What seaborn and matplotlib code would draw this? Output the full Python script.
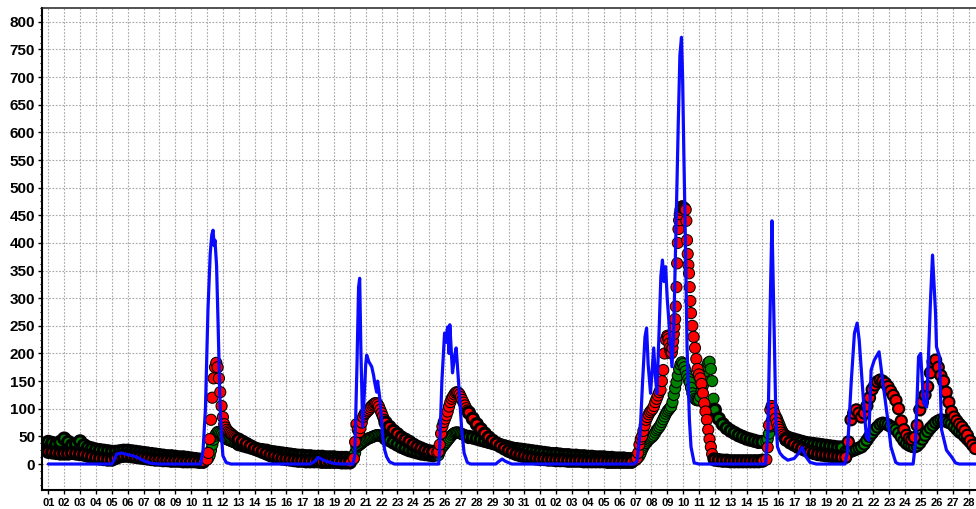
import numpy as np
import pandas as pd
import matplotlib
matplotlib.use("Agg")
import matplotlib.pyplot as plt
import seaborn as sns
from matplotlib.ticker import MultipleLocator

# ---------------- data ----------------
# x axis: consecutive days of two months (31 + 28 days)
day_labels = ["%02d" % d for d in range(1, 32)] + ["%02d" % d for d in range(1, 29)]
y_ticks = list(range(0, 801, 50))

# marker series given as (start day, step in hours, values)
red_segments = [
    (0.0, 6, [22, 21, 20, 19, 19, 19, 20, 19, 18, 17, 15, 13, 11, 10, 9, 8, 8, 11, 14, 15,
              15, 14, 13, 12, 11, 10, 9, 8, 8, 7, 7, 6, 6, 6, 5, 5, 5, 5, 4, 4]),
    (10.0, 2, [8, 20, 45, 80, 120, 155, 175, 183, 175, 155, 130, 105, 85, 72, 66, 62, 59, 57,
               55, 53, 51, 49, 47, 45]),
    (12.0, 6, [44, 40, 36, 32, 28, 25, 22, 19, 16, 14, 12, 10, 9, 8, 7, 6, 6, 5, 5, 5, 5, 4,
               4, 4, 4, 4, 3, 3, 3]),
    (19.25, 2, [10, 40, 72, 62, 58, 65, 75, 85, 90, 92, 95, 97, 100, 103, 106, 108, 110, 110,
                108, 104, 98, 92, 86, 80]),
    (21.25, 6, [75, 67, 60, 54, 48, 44, 40, 35, 31, 28, 25, 23, 22]),
    (24.5, 2, [21, 22, 35, 55, 68, 76, 82, 88, 95, 104, 112, 118, 122, 126, 129, 130, 129, 126,
               121, 116, 111, 106, 101, 97]),
    (26.5, 6, [93, 82, 72, 63, 55, 48, 42, 37, 32, 28, 24, 21, 18, 16, 14, 12, 11, 10, 9, 9, 8,
               8, 7, 7, 7, 6, 6, 6, 6, 5, 5, 5, 5, 5, 5, 4, 4, 4, 4, 4, 4, 4]),
    (37.0, 2, [7, 10, 20, 35, 45, 50, 60, 70, 80, 85, 90, 94, 97, 100, 105, 112, 118, 124, 130,
               134, 150, 170, 200, 225]),
    (39.0, 1, [232, 230, 226, 218, 210, 204, 200, 202, 210, 222, 235, 248, 262, 285, 320, 363,
               400, 425, 441, 452, 460, 464, 466, 466, 465, 464, 463, 462, 460, 440, 405, 380,
               360, 345, 320, 295]),
    (40.5, 2, [273, 250, 230, 210, 190, 172, 162, 155, 145, 128, 110, 95, 80, 62, 45, 31, 18, 10]),
    (42.0, 6, [8, 7, 6, 6, 5, 5, 5, 5, 5, 5, 5, 5, 6]),
    (45.25, 2, [8, 30, 70, 98, 105, 100, 92, 82, 74, 67, 62, 57, 53, 50, 47]),
    (46.5, 6, [44, 39, 35, 31, 28, 25, 22, 20, 18, 17, 16, 15, 14, 13, 12]),
    (50.25, 4, [12, 40, 80, 92, 98, 92, 85, 92, 105, 120, 135, 143, 149, 152, 150, 146, 140, 132,
                124, 115, 100, 78, 62, 52, 46, 44, 48, 70, 98, 112, 125, 140, 165, 185, 188, 175,
                160, 150, 130, 112, 95, 85, 78, 72, 67, 60, 52, 42, 34, 28]),
]

green_segments = [
    (0.0, 6, [40, 38, 36, 40, 46, 40, 34, 36, 41, 34, 30, 28, 26, 25, 24, 23, 22, 22, 23, 24,
              24, 23, 22, 21, 20, 19, 18, 17, 16, 15, 14, 14, 13, 12, 12, 11, 10, 9, 8, 8]),
    (10.0, 2, [9, 11, 16, 25, 35, 44, 51, 55, 58, 57, 55, 53, 50, 48, 46, 45, 44, 43, 42, 41,
               40, 39, 38, 37]),
    (12.0, 6, [36, 34, 32, 30, 28, 26, 25, 24, 22, 21, 20, 19, 18, 17, 16, 15, 15, 14, 14, 13,
               13, 13, 12, 12, 12, 11, 11, 11, 10]),
    (19.25, 2, [10, 20, 30, 33, 34, 36, 38, 40, 42, 43, 45, 46, 47, 48, 49, 50, 51, 52, 52, 52,
                51, 50, 49, 48]),
    (21.25, 6, [46, 43, 39, 35, 31, 28, 25, 23, 21, 19, 18, 17, 16]),
    (24.5, 2, [16, 16, 22, 28, 31, 34, 37, 40, 43, 46, 49, 52, 54, 56, 57, 57, 57, 56, 55, 54,
               53, 52, 51, 50]),
    (26.5, 6, [49, 48, 46, 44, 42, 40, 38, 36, 34, 32, 30, 28, 27, 26, 25, 24, 23, 22, 21, 20,
               19, 18, 18, 17, 16, 16, 15, 15, 14, 14, 13, 13, 12, 12, 12, 11, 11, 10, 10, 10,
               9, 9]),
    (37.0, 2, [9, 10, 12, 15, 20, 26, 31, 35, 38, 41, 44, 46, 48, 50, 53, 57, 61, 64, 67, 71,
               76, 81, 86, 91]),
    (39.0, 2, [95, 98, 101, 104, 112, 125, 137, 148, 160, 172, 180, 184, 181, 175, 168, 160,
               154, 148]),
    (40.5, 2, [138, 128, 122, 118, 116, 115, 116, 122, 132, 142, 155, 168, 177, 183, 185, 172,
               150, 118]),
    (42.0, 6, [98, 82, 72, 65, 60, 56, 52, 49, 46, 44, 42, 40, 40]),
    (45.25, 2, [41, 45, 55, 68, 78, 85, 88, 86, 82, 76, 70, 64, 59, 55, 52]),
    (46.5, 6, [49, 46, 44, 42, 40, 38, 37, 36, 35, 34, 33, 32, 31, 30, 30]),
    (50.25, 4, [22, 22, 23, 25, 27, 29, 31, 36, 43, 50, 56, 62, 67, 72, 74, 73, 71, 68, 65, 62,
                56, 49, 42, 37, 34, 32, 31, 33, 38, 45, 52, 59, 65, 70, 75, 78, 80, 79, 77, 75,
                73, 68, 63, 58, 55, 50, 45, 40, 37, 34]),
]

blue_days = [0, 4.0, 4.15, 4.3, 4.6, 5.0, 5.3, 5.6, 6.0, 6.5, 7.0,
             9.6, 9.75, 9.9, 10.06, 10.2, 10.3, 10.38, 10.45, 10.5, 10.6, 10.7, 10.8, 10.9, 11.0, 11.2, 11.5,
             16.5, 16.8, 17.0, 17.2, 17.5, 18.0, 18.5,
             19.2, 19.31, 19.45, 19.55, 19.62, 19.7, 19.81, 19.9, 20.0, 20.06, 20.2, 20.38, 20.5, 20.57,
             20.69, 20.75, 20.88, 21.0, 21.07, 21.2, 21.32, 21.5, 21.8,
             24.6, 24.65, 24.8, 24.97, 25.05, 25.16, 25.25, 25.3, 25.47, 25.6, 25.7, 25.8, 25.9, 26.05,
             26.2, 26.4, 26.6,
             28.2, 28.4, 28.6, 28.8, 29.2,
             36.9, 37.1, 37.3, 37.45, 37.6, 37.7, 37.8, 37.95, 38.05, 38.15, 38.25, 38.35, 38.5, 38.6,
             38.7, 38.8, 38.9, 39.0, 39.1, 39.3, 39.4, 39.55, 39.7, 39.8, 39.9, 39.97, 40.05, 40.15,
             40.25, 40.4, 40.5, 40.7, 41.0,
             45.2, 45.35, 45.5, 45.6, 45.7, 45.85, 45.95, 46.1, 46.3, 46.6, 47.0, 47.3, 47.5, 47.7,
             48.0, 48.4,
             50.2, 50.35, 50.6, 50.8, 50.97, 51.1, 51.35, 51.55, 51.7, 51.85, 52.05, 52.35, 52.6,
             52.9, 53.1, 53.4, 53.6,
             54.5, 54.65, 54.84, 54.97, 55.16, 55.35, 55.6, 55.72, 55.91, 55.97, 56.16, 56.29, 56.6,
             56.92, 57.17, 57.4, 58.5]
blue_vals = [0, 0, 8, 18, 20, 17, 15, 12, 6, 1, 0,
             0, 25, 100, 280, 380, 415, 423, 395, 405, 360, 250, 130, 55, 15, 3, 0,
             0, 5, 12, 9, 5, 1, 0,
             0, 15, 180, 320, 336, 200, 67, 120, 180, 197, 185, 176, 160, 147,
             130, 150, 121, 80, 49, 25, 13, 4, 0,
             0, 20, 150, 237, 220, 248, 200, 252, 165, 195, 210, 170, 128, 62,
             20, 3, 0,
             0, 5, 9, 5, 0,
             0, 5, 60, 150, 230, 246, 180, 128, 170, 210, 160, 128, 250, 340,
             369, 330, 357, 300, 261, 176, 230, 420, 620, 740, 772, 700, 560, 400,
             212, 80, 31, 2, 0,
             0, 60, 300, 440, 300, 80, 31, 20, 13, 7, 10, 20, 30, 15,
             3, 0,
             0, 20, 150, 237, 255, 224, 122, 49, 43, 170, 188, 203, 146,
             80, 31, 3, 0,
             0, 40, 194, 200, 110, 103, 302, 378, 273, 212, 194, 62, 25,
             13, 2, 0, 0]


def build(segments, name):
    rows = []
    for start, step_h, vals in segments:
        for i, v in enumerate(vals):
            rows.append((start + i * step_h / 24.0, v, step_h))
    df = pd.DataFrame(rows, columns=["day", "value", "step"])
    df["series"] = name
    return df


red_df = build(red_segments, "red")
green_df = build(green_segments, "green")
blue_df = pd.DataFrame({"day": blue_days, "value": blue_vals})

# ---------------- style ----------------
sns.set_style("white")
plt.rcParams["font.family"] = ["Liberation Sans", "DejaVu Sans"]

W, H = 976, 509
fig = plt.figure(figsize=(W / 100, H / 100), dpi=100)
ax = fig.add_axes([42 / W, 19 / H, 1 - 42 / W, (490 - 8) / H])

XMIN, XMAX = -0.40, 58.46
px_per_day = (W - 42) / (XMAX - XMIN)


def edge_widths(df):
    # overlapping outlines: outline thickness follows spacing between samples
    gap_px = df["step"].to_numpy() / 24.0 * px_per_day
    return np.clip(gap_px * 0.8, 1.0, 3.2) * 0.72


sns.scatterplot(data=green_df, x="day", y="value", ax=ax, color="#008000",
                edgecolor="black", linewidth=edge_widths(green_df), s=64, zorder=3, legend=False)
sns.scatterplot(data=red_df, x="day", y="value", ax=ax, color="#ff0000",
                edgecolor="black", linewidth=edge_widths(red_df), s=64, zorder=4, legend=False)
sns.lineplot(data=blue_df, x="day", y="value", ax=ax, color="#0a0aff",
             linewidth=2.3, estimator=None, sort=False, zorder=5)

ax.set_xlim(XMIN, XMAX)
ax.set_ylim(-47, 825)
ax.set_xticks(range(len(day_labels)))
ax.set_xticklabels(day_labels, fontsize=8, fontweight="bold")
ax.set_yticks(y_ticks)
ax.set_yticklabels([str(v) for v in y_ticks], fontsize=11, fontweight="bold")
ax.yaxis.set_minor_locator(MultipleLocator(12.5))
ax.set_xlabel("")
ax.set_ylabel("")

ax.grid(True, which="major", color="#a6a6a6", linestyle=(0, (1.5, 1.5)), linewidth=0.8)
ax.set_axisbelow(True)

ax.tick_params(axis="x", which="major", length=3, width=1, pad=3, direction="out", colors="black")
ax.tick_params(axis="y", which="major", length=3, width=1, pad=2, direction="out", colors="black")
ax.tick_params(axis="y", which="minor", length=1.5, width=0.8, direction="out", colors="black")
ax.tick_params(left=True, bottom=True, which="both")

for side in ["left", "bottom"]:
    ax.spines[side].set_linewidth(1.5)
    ax.spines[side].set_color("black")
ax.spines["top"].set_linewidth(1.1)
ax.spines["top"].set_color("#202020")
ax.spines["right"].set_visible(False)

fig.savefig("out.png", dpi=100)
